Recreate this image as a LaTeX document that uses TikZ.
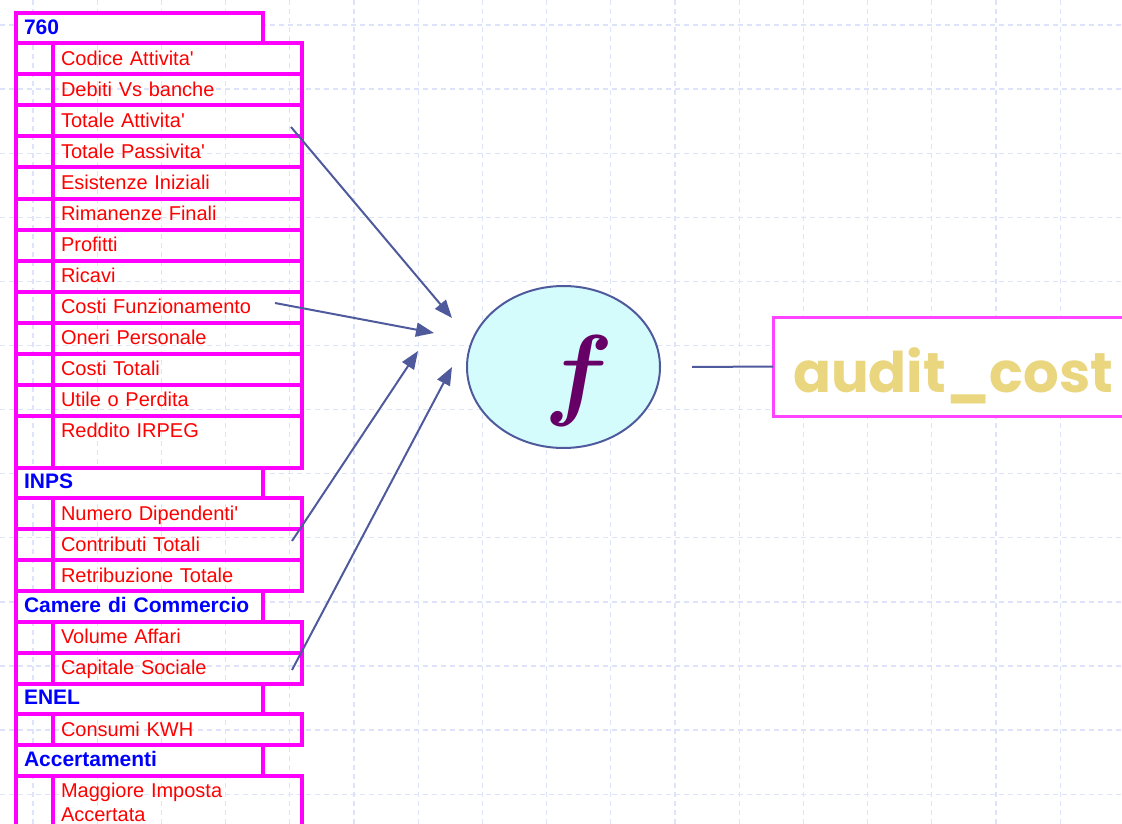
\documentclass[tikz,border=0pt]{standalone}
\usepackage{fontspec}
\setmainfont{Liberation Sans}
\newfontfamily\costfont{Poppins}
\usetikzlibrary{arrows.meta,shapes,positioning}

\definecolor{tabline}{HTML}{FF00FF}
\definecolor{itemred}{HTML}{FF0000}
\definecolor{hdrblue}{HTML}{0000FF}
\definecolor{arrowblue}{HTML}{4F5A9C}
\definecolor{gridblue}{HTML}{DCE3FB}
\definecolor{fcyan}{HTML}{D4FCFC}
\definecolor{fpurple}{HTML}{660066}
\definecolor{costyellow}{HTML}{EBD680}
\definecolor{costline}{HTML}{FF44FF}

\newcommand{\apo}{\textquotesingle}

\begin{document}
\begin{tikzpicture}[x=1pt, y=-1pt, node distance=0pt and 0pt,
    every node/.style={outer sep=0pt},
    hdr/.style={draw=tabline, fill=white, line width=4pt, text width=231pt, inner xsep=8pt, inner ysep=7.25pt,
      text height=14pt, text depth=2pt, text=hdrblue, font=\fontsize{21}{22}\selectfont\bfseries},
    item/.style={draw=tabline, line width=4pt, text width=233pt, inner xsep=8pt, inner ysep=7pt,
      text height=15pt, text depth=2pt, text=itemred, font=\fontsize{20}{24}\selectfont},
    gap/.style={draw=tabline, line width=4pt},
    feed/.style={draw=arrowblue, line width=2pt, ->},
    >={Triangle[length=18pt,width=14pt]},
    gridline/.style={draw=gridblue, line width=1.3pt, dash pattern=on 5pt off 4pt}]
  \clip (0,0) rectangle (1122,824);

  \foreach \gx in {0,...,16}
    \draw[gridline] ({33+64.2*\gx},0) -- ({33+64.2*\gx},824);
  \foreach \gy in {0,...,12}
    \draw[gridline] (0,{25+64.1*\gy}) -- (1122,{25+64.1*\gy});

  \node[hdr, anchor=north west] (h760) at (16,13) {760};
  \node[item, below=0pt of h760.south west, anchor=north west, xshift=37pt] (codice) {Codice Attivita\apo};
  \node[item, below=of codice] (debiti) {Debiti Vs banche};
  \node[item, below=of debiti] (attivita) {Totale Attivita\apo};
  \node[item, below=of attivita] (passivita) {Totale Passivita\apo};
  \node[item, below=of passivita] (esistenze) {Esistenze Iniziali};
  \node[item, below=of esistenze] (rimanenze) {Rimanenze Finali};
  \node[item, below=of rimanenze] (profitti) {Profitti};
  \node[item, below=of profitti] (ricavi) {Ricavi};
  \node[item, below=of ricavi] (funz) {Costi Funzionamento};
  \node[item, below=of funz] (oneri) {Oneri Personale};
  \node[item, below=of oneri] (costitot) {Costi Totali};
  \node[item, below=of costitot] (utile) {Utile o Perdita};
  \node[item, below=of utile, text depth=23pt] (reddito) {Reddito IRPEG};

  \node[hdr, below=0pt of reddito.south west, anchor=north west, xshift=-37pt] (hinps) {INPS};
  \node[item, below=0pt of hinps.south west, anchor=north west, xshift=37pt] (numero) {Numero Dipendenti\apo};
  \node[item, below=of numero] (contributi) {Contributi Totali};
  \node[item, below=of contributi] (retrib) {Retribuzione Totale};

  \node[hdr, below=0pt of retrib.south west, anchor=north west, xshift=-37pt] (hcamere) {Camere di Commercio};
  \node[item, below=0pt of hcamere.south west, anchor=north west, xshift=37pt] (volume) {Volume Affari};
  \node[item, below=of volume] (capitale) {Capitale Sociale};

  \node[hdr, below=0pt of capitale.south west, anchor=north west, xshift=-37pt] (henel) {ENEL};
  \node[item, below=0pt of henel.south west, anchor=north west, xshift=37pt] (consumi) {Consumi KWH};

  \node[hdr, below=0pt of consumi.south west, anchor=north west, xshift=-37pt] (hacc) {Accertamenti};
  \node[item, below=0pt of hacc.south west, anchor=north west, xshift=37pt, text depth=27pt] (imposta) {Maggiore Imposta\\Accertata};

  \foreach \r in {codice,debiti,attivita,passivita,esistenze,rimanenze,profitti,ricavi,funz,oneri,costitot,utile,reddito,numero,contributi,retrib,volume,capitale,consumi,imposta}
    \draw[gap] (\r.north west) rectangle (\r.south west -| h760.west);

  \node[ellipse, draw=arrowblue, fill=fcyan, line width=2pt, minimum width=193pt, minimum height=162pt] (func) at (563.5,367) {};
  \node[text=fpurple, font=\Huge\boldmath, scale=4.1] (fsym) at (579,381) {$f$};

  \node[draw=costline, fill=white, line width=3pt, anchor=west, minimum height=99pt, text width=330pt, inner xsep=20pt,
    text height=55pt, text depth=4pt, text=costyellow, font=\costfont\fontsize{56}{60}\selectfont\bfseries] (cost) at (773,366.5) {audit\_cost};

  \coordinate (in1) at (452,318);
  \coordinate (in2) at (434,333);
  \coordinate (in3) at (418,351);
  \coordinate (in4) at (452,367);

  \draw[feed] ([xshift=-11pt,yshift=-6pt]attivita.east) -- (in1);
  \draw[feed] ([xshift=-27pt,yshift=4pt]funz.east) -- (in2);
  \draw[feed] ([xshift=-10pt,yshift=3.5pt]contributi.east) -- (in3);
  \draw[feed] ([xshift=-10pt,yshift=-2pt]capitale.east) -- (in4);
  \draw[draw=arrowblue, line width=2pt] ([xshift=32pt]func.east) -- (cost.west);
\end{tikzpicture}
\end{document}
